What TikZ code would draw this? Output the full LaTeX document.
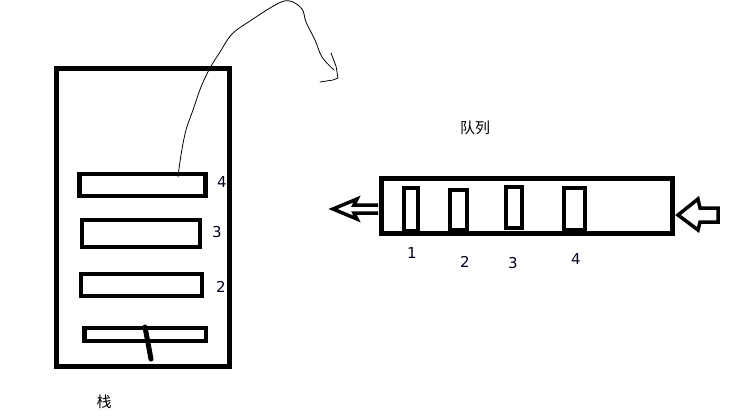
\documentclass[tikz,border=0pt]{standalone}
\usepackage{fontspec}
\setmainfont{DejaVu Sans}
\newfontfamily\cjk{Noto Sans CJK SC}
\begin{document}
\begin{tikzpicture}[x=1pt,y=-1pt,
  frame/.style={draw=black,line width=5pt},
  slot/.style={draw=black,line width=4.5pt},
  cell/.style={draw=black,line width=4pt},
  hollow/.style={draw=black,line width=3.5pt,line join=miter},
  pen/.style={draw=black,line width=0.8pt,line cap=round,line join=round},
  num/.style={font=\fontsize{15}{15}\selectfont,text=black!85!blue,inner sep=0pt},
  zh/.style={font=\cjk\fontsize{15}{15}\selectfont,inner sep=0pt}]
\useasboundingbox (0,0) rectangle (730,416);
\fill[white] (0,0) rectangle (730,416);
% stack
\draw[frame] (56,68) rectangle (229,366);
\draw[slot] (79.5,174) rectangle (205.5,196);
\draw[slot] (82,220) rectangle (200,247);
\draw[slot] (81,274) rectangle (202,296);
\draw[slot] (84.5,328) rectangle (206,341);
\draw[line width=5pt,line cap=round] (145,327) -- (151,359);
\node[num] (s4) at (222,182) {4};
\node[num] (s3) at (217,232) {3};
\node[num] (s2) at (221,287) {2};
\node[zh] (stk) at (104,402) {栈};
% hand-drawn curve
\draw[pen] plot[smooth,tension=0.6] coordinates {(178,177) (181,155) (186,130) (193,110) (201,87) (210,68) (220,52) (232,34) (250,21) (277,4) (290,1) (302,9) (306,22) (315,40) (322,57) (334,70)};
\draw[pen] (331,53) -- (336,66) -- (338,78) -- (333,80) -- (320,82);
% queue
\node[zh] (que) at (475,128) {队列};
\draw[frame] (381,178) rectangle (672,233);
\draw[cell] (404,188) rectangle (418,231);
\draw[cell] (450,190) rectangle (467,230);
\draw[cell] (506,187) rectangle (522,228);
\draw[cell] (564,188) rectangle (585,230);
\node[num] (q1) at (412,253) {1};
\node[num] (q2) at (465,262) {2};
\node[num] (q3) at (513,263) {3};
\node[num] (q4) at (576,259) {4};
% arrows
\draw[hollow] (378,205) -- (354,205) -- (357,199) -- (333,209) -- (357,219) -- (354,213) -- (378,213);
\draw[hollow] (718,208) -- (700,208) -- (698,199) -- (678,215) -- (698,230) -- (700,222) -- (718,222) -- cycle;
\end{tikzpicture}
\end{document}
